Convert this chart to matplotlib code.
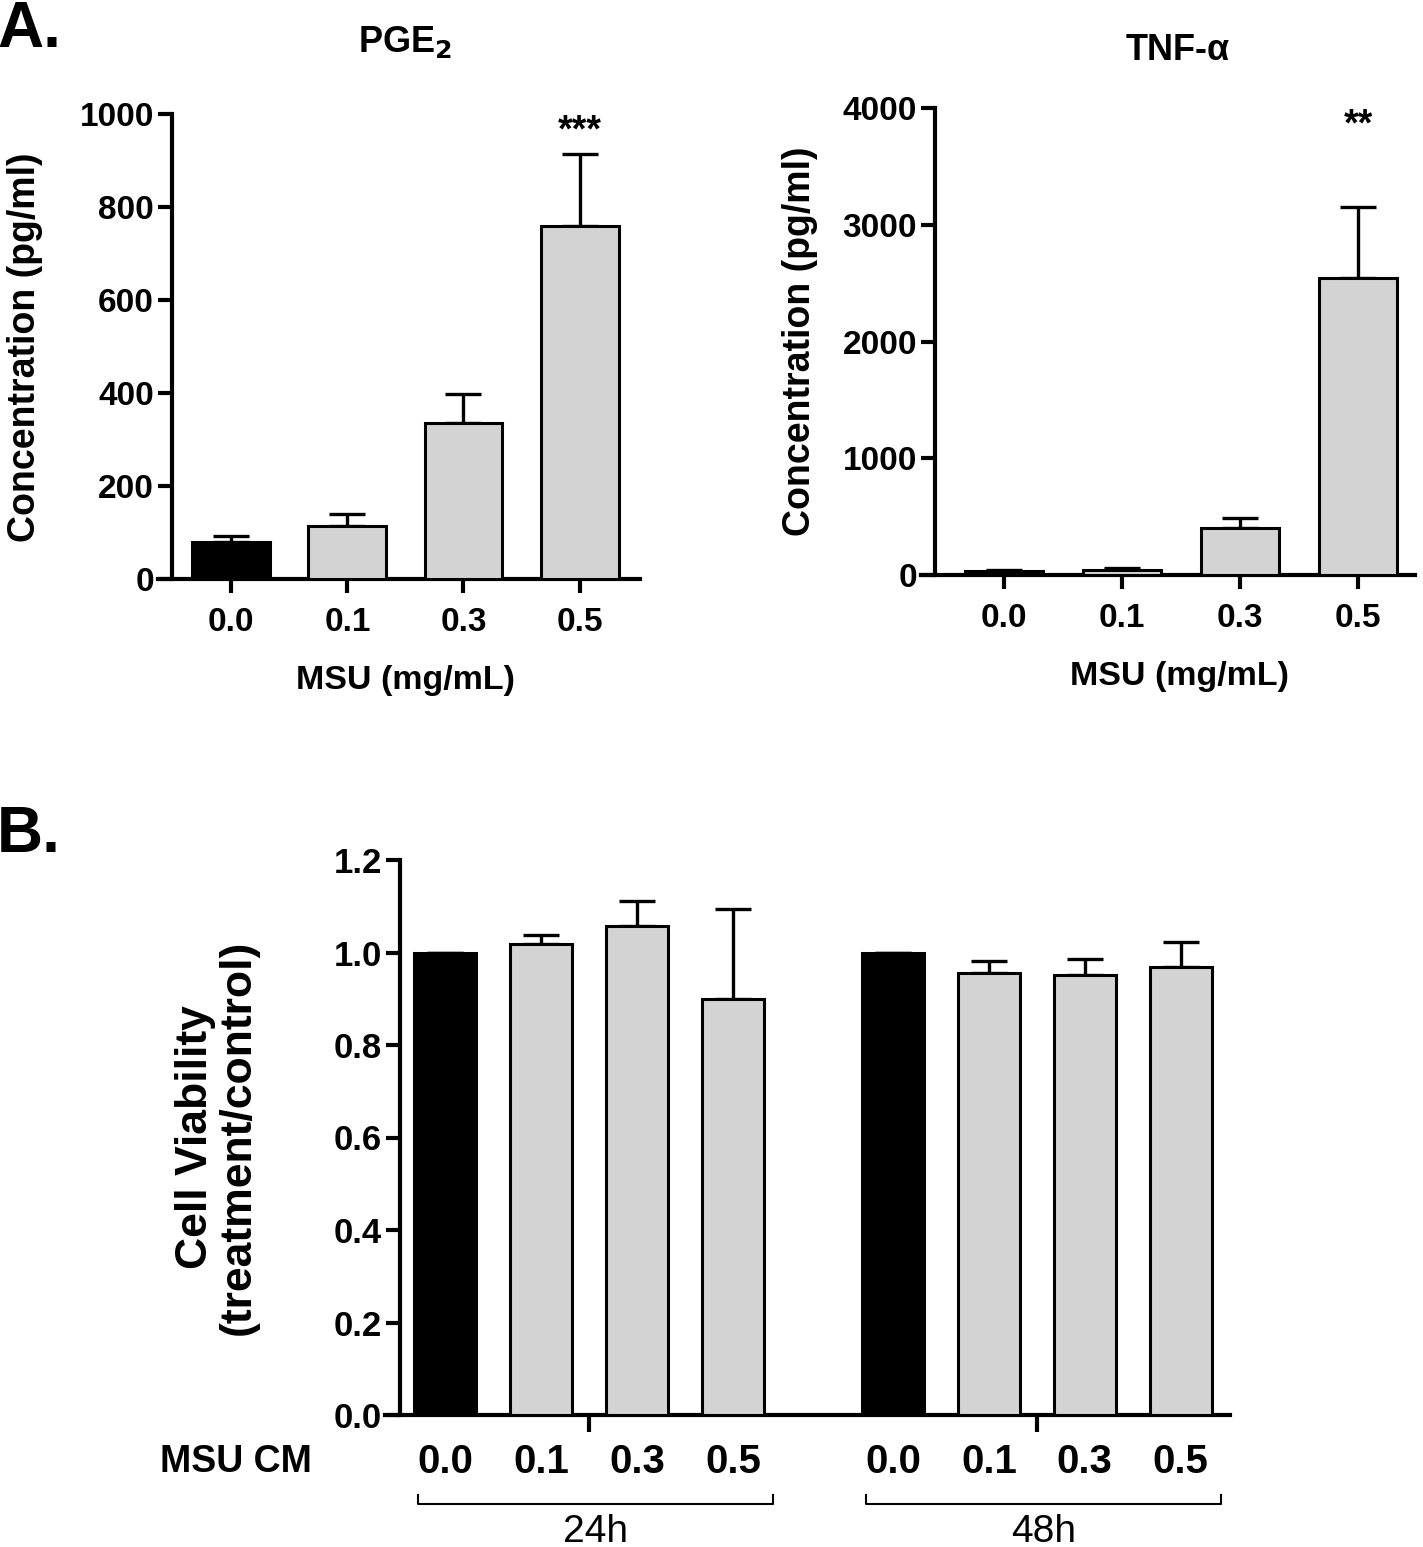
import matplotlib
matplotlib.use("Agg")
import matplotlib.pyplot as plt
import numpy as np

plt.rcParams['font.family'] = ['Liberation Sans', 'DejaVu Sans']

# ---------------- data ----------------
doses = ["0.0", "0.1", "0.3", "0.5"]
pge2_mean = [80, 115, 335, 760]
pge2_err = [12, 25, 63, 155]
tnf_mean = [30, 40, 400, 2540]
tnf_err = [15, 22, 90, 610]
viab_24_mean = [1.0, 1.018, 1.057, 0.90]
viab_24_err = [0.0, 0.02, 0.055, 0.194]
viab_48_mean = [1.0, 0.956, 0.951, 0.969]
viab_48_err = [0.0, 0.026, 0.034, 0.054]
bar_colors = ["black", "#d3d3d3", "#d3d3d3", "#d3d3d3"]

W, H = 1423, 1547
fig = plt.figure(figsize=(W / 100, H / 100), dpi=100)

def rect(l, r, b, t):
    return [l / W, 1 - b / H, (r - l) / W, (b - t) / H]

def fx(x):
    return x / W

def fy(y):
    return 1 - y / H

SP_LW = 3.0

def style_axes(ax, left_offset_px, width_px, fs):
    for s in ['top', 'right']:
        ax.spines[s].set_visible(False)
    ax.spines['left'].set_linewidth(SP_LW)
    ax.spines['bottom'].set_linewidth(SP_LW)
    ax.spines['left'].set_position(('axes', left_offset_px / width_px))
    ax.tick_params(axis='both', width=SP_LW, length=10, labelsize=fs, pad=3)
    for lab in ax.get_yticklabels() + ax.get_xticklabels():
        lab.set_fontweight('bold')

def bars(ax, x, means, errs, width):
    ax.bar(x, means, width=width, color=bar_colors[:len(x)], edgecolor='black',
           linewidth=2.2, zorder=3)
    ax.errorbar(x, means, yerr=[np.zeros(len(errs)), errs], fmt='none',
                ecolor='black', elinewidth=2.4, capsize=13, capthick=2.4, zorder=2)

# ---------------- Panel A left: PGE2 ----------------
axL = fig.add_axes(rect(158, 640, 579, 114))
x = np.arange(4)
bars(axL, x, pge2_mean, pge2_err, 0.67)
axL.set_xlim(-0.63, 3.52)
axL.set_ylim(0, 1000)
axL.set_yticks([0, 200, 400, 600, 800, 1000])
axL.set_xticks(x)
axL.set_xticklabels(doses)
style_axes(axL, 14, 640 - 158, 24)
axL.tick_params(axis='x', pad=10)
axL.annotate("***", (3, pge2_mean[3] + pge2_err[3]), xytext=(0, 3),
             textcoords='offset points', ha='center', va='bottom',
             fontsize=27, fontweight='bold')

# ---------------- Panel A right: TNF-alpha ----------------
axR = fig.add_axes(rect(921, 1415, 575, 108))
bars(axR, x, tnf_mean, tnf_err, 0.66)
axR.set_xlim(-0.70, 3.48)
axR.set_ylim(0, 4000)
axR.set_yticks([0, 1000, 2000, 3000, 4000])
axR.set_xticks(x)
axR.set_xticklabels(doses)
style_axes(axR, 14, 1415 - 921, 24)
axR.tick_params(axis='x', pad=10)
axR.annotate("**", (3, tnf_mean[3] + tnf_err[3]), xytext=(0, 46),
             textcoords='offset points', ha='center', va='bottom',
             fontsize=27, fontweight='bold')

# ---------------- Panel B ----------------
axB = fig.add_axes(rect(385, 1230, 1415, 860))
gap = 4.667
xb24 = np.arange(4)
xb48 = np.arange(4) + gap
bars(axB, xb24, viab_24_mean, viab_24_err, 0.646)
bars(axB, xb48, viab_48_mean, viab_48_err, 0.646)
axB.set_xlim(-0.625, 8.18)
axB.set_ylim(0, 1.2)
axB.set_yticks(np.round(np.arange(0, 1.21, 0.2), 1))
axB.set_yticklabels([f"{v:.1f}" for v in np.arange(0, 1.21, 0.2)])
axB.set_xticks([1.5, 1.5 + gap])
axB.set_xticklabels([])
style_axes(axB, 15, 1230 - 385, 25)
axB.tick_params(axis='x', length=12)

# x tick labels (doses) under each bar, drawn with the data transform
trans = axB.get_xaxis_transform()
for xs in (xb24, xb48):
    for xi, lab in zip(xs, doses):
        axB.text(xi, -0.085, lab, transform=trans, ha='center', va='center',
                 fontsize=29, fontweight='bold', clip_on=False)

# group brackets
for xs, lab in ((xb24, "24h"), (xb48, "48h")):
    x0, x1 = xs[0] - 0.28, xs[-1] + 0.42
    y0, y1 = -0.145, -0.16
    axB.plot([x0, x0, x1, x1], [y0, y1, y1, y0], transform=trans, color='black',
             lw=1.5, clip_on=False)
    axB.text((x0 + x1) / 2, -0.21, lab, transform=trans, ha='center', va='center',
             fontsize=28, clip_on=False)

# ---------------- figure texts ----------------
fig.text(fx(-3), fy(30), "A.", fontsize=46, fontweight='bold', ha='left', va='center')
fig.text(fx(-3), fy(835), "B.", fontsize=46, fontweight='bold', ha='left', va='center')
fig.text(fx(405), fy(42), r"PGE$_\mathbf{2}$", fontsize=26, fontweight='bold',
         ha='center', va='center')
fig.text(fx(1178), fy(50), "TNF-α", fontsize=26, fontweight='bold',
         ha='center', va='center')
fig.text(fx(25), fy(347), "Concentration (pg/ml)", rotation=90, fontsize=27,
         fontweight='bold', ha='center', va='center')
fig.text(fx(800), fy(341), "Concentration (pg/ml)", rotation=90, fontsize=27,
         fontweight='bold', ha='center', va='center')
fig.text(fx(405), fy(680), "MSU (mg/mL)", fontsize=24.5, fontweight='bold',
         ha='center', va='center')
fig.text(fx(1180), fy(677), "MSU (mg/mL)", fontsize=24.5, fontweight='bold',
         ha='center', va='center')
fig.text(fx(217), fy(1137), "Cell Viability\n(treatment/control)", rotation=90,
         fontsize=32, fontweight='bold', ha='center', va='center', linespacing=1.05)
fig.text(fx(236), fy(1462), "MSU CM", fontsize=27, fontweight='bold',
         ha='center', va='center')

fig.savefig("out.png", dpi=100)
